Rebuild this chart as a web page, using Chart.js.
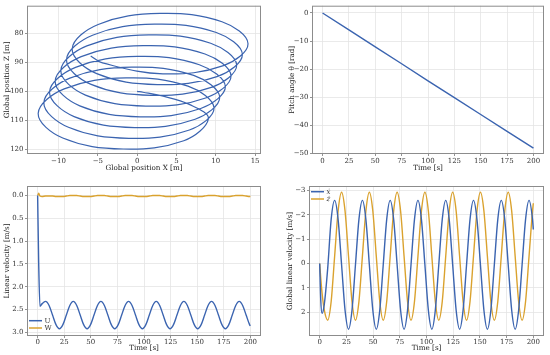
<!DOCTYPE html>
<html>
<head>
<meta charset="utf-8">
<script src="https://cdn.jsdelivr.net/npm/chart.js@4.4.1/dist/chart.umd.min.js"></script>
<style>
html, body { margin: 0; padding: 0; background: #fff; }
#wrap { position: relative; width: 550px; height: 355px; }
canvas { position: absolute; }
</style>
</head>
<body>
<div id="wrap">
  <canvas id="pos" width="275" height="177" style="left:0;top:0"></canvas>
  <canvas id="pitch" width="275" height="177" style="left:275px;top:0"></canvas>
  <canvas id="vel" width="275" height="178" style="left:0;top:177px"></canvas>
  <canvas id="gvel" width="275" height="178" style="left:275px;top:177px"></canvas>
</div>
<script>
// trajectory in the x-z plane
const trajX = [0, 0.75, 2.9, 6.7,
  9.06, 5.93, -1.76, -9.45, -12.58, -9.27, -1.40, 6.47,
  9.78, 6.65, -1.04, -8.73, -11.86, -8.55, -0.68, 7.19,
  10.50, 7.37, -0.32, -8.01, -11.14, -7.83, 0.04, 7.91,
  11.22, 8.09, 0.40, -7.29, -10.42, -7.11, 0.76, 8.63,
  11.94, 8.81, 1.12, -6.57, -9.70, -6.39, 1.48, 9.35,
  12.66, 9.53, 1.84, -5.85, -8.98, -5.67, 2.20, 10.07,
  13.38, 10.25, 2.56, -5.13, -8.26, -4.95, 2.92, 10.79,
  14.10, 10.97, 3.28, -4.41, -5.9];
const trajZ = [100, 100.3, 101.4, 104.6,
  109.5, 117.10, 119.97, 116.17, 107.64, 99.12, 95.31, 98.19,
  105.78, 113.38, 116.25, 112.45, 103.92, 95.40, 91.59, 94.47,
  102.06, 109.66, 112.53, 108.73, 100.20, 91.68, 87.87, 90.75,
  98.34, 105.94, 108.81, 105.01, 96.48, 87.96, 84.15, 87.03,
  94.62, 102.22, 105.09, 101.29, 92.76, 84.24, 80.43, 83.31,
  90.90, 98.50, 101.37, 97.57, 89.04, 80.52, 76.71, 79.59,
  87.18, 94.78, 97.65, 93.85, 85.32, 76.80, 72.99, 75.87,
  83.46, 91.06, 93.93, 90.13, 87.7];

// pitch angle
const pitchT = [0, 25, 50, 75, 100, 125, 150, 175, 200];
const pitchV = [0, -6.0, -12.1, -18.1, -24.2, -30.2, -36.2, -42.2, -48.2];

// time stamps shared by the velocity series
const timeS = [0, 1, 2.2, 4.25, 7.5, 10.75,
  14, 17.25, 20.5, 23.75, 27, 30.25, 33.5, 36.75,
  40, 43.25, 46.5, 49.75, 53, 56.25, 59.5, 62.75,
  66, 69.25, 72.5, 75.75, 79, 82.25, 85.5, 88.75,
  92, 95.25, 98.5, 101.75, 105, 108.25, 111.5, 114.75,
  118, 121.25, 124.5, 127.75, 131, 134.25, 137.5, 140.75,
  144, 147.25, 150.5, 153.75, 157, 160.25, 163.5, 166.75,
  170, 173.25, 176.5, 179.75, 183, 186.25, 189.5, 192.75,
  196, 199.25, 200];

const velU = [0, 1.5, 2.43, 2.37, 2.32, 2.41,
  2.62, 2.83, 2.92, 2.83, 2.62, 2.41, 2.32, 2.41,
  2.62, 2.83, 2.92, 2.83, 2.62, 2.41, 2.32, 2.41,
  2.62, 2.83, 2.92, 2.83, 2.62, 2.41, 2.32, 2.41,
  2.62, 2.83, 2.92, 2.83, 2.62, 2.41, 2.32, 2.41,
  2.62, 2.83, 2.92, 2.83, 2.62, 2.41, 2.32, 2.41,
  2.62, 2.83, 2.92, 2.83, 2.62, 2.41, 2.32, 2.41,
  2.62, 2.83, 2.92, 2.83, 2.62, 2.41, 2.32, 2.41,
  2.62, 2.83, 2.86];
const velW = [0, -0.05, 0.01, 0.02, 0.01, 0.01,
  0.01, 0.02, 0.02, 0.02, 0.01, 0, 0, 0,
  0.01, 0.02, 0.02, 0.02, 0.01, 0, 0, 0,
  0.01, 0.02, 0.02, 0.02, 0.01, 0, 0, 0,
  0.01, 0.02, 0.02, 0.02, 0.01, 0, 0, 0,
  0.01, 0.02, 0.02, 0.02, 0.01, 0, 0, 0,
  0.01, 0.02, 0.02, 0.02, 0.01, 0, 0, 0,
  0.01, 0.02, 0.02, 0.02, 0.01, 0, 0, 0,
  0.01, 0.02, 0.02];
const velXdot = [0, 1.5, 2.05, 1.7, 0.2, -1.82,
  -2.6, -1.82, 0.05, 1.92, 2.7, 1.92, 0.05, -1.82,
  -2.6, -1.82, 0.05, 1.92, 2.7, 1.92, 0.05, -1.82,
  -2.6, -1.82, 0.05, 1.92, 2.7, 1.92, 0.05, -1.82,
  -2.6, -1.82, 0.05, 1.92, 2.7, 1.92, 0.05, -1.82,
  -2.6, -1.82, 0.05, 1.92, 2.7, 1.92, 0.05, -1.82,
  -2.6, -1.82, 0.05, 1.92, 2.7, 1.92, 0.05, -1.82,
  -2.6, -1.82, 0.05, 1.92, 2.7, 1.92, 0.05, -1.82,
  -2.6, -1.82, -1.4];
const velZdot = [0, 0.6, 1.2, 1.9, 2.33, 1.56,
  -0.30, -2.16, -2.93, -2.16, -0.30, 1.56, 2.33, 1.56,
  -0.30, -2.16, -2.93, -2.16, -0.30, 1.56, 2.33, 1.56,
  -0.30, -2.16, -2.93, -2.16, -0.30, 1.56, 2.33, 1.56,
  -0.30, -2.16, -2.93, -2.16, -0.30, 1.56, 2.33, 1.56,
  -0.30, -2.16, -2.93, -2.16, -0.30, 1.56, 2.33, 1.56,
  -0.30, -2.16, -2.93, -2.16, -0.30, 1.56, 2.33, 1.56,
  -0.30, -2.16, -2.93, -2.16, -0.30, 1.56, 2.33, 1.56,
  -0.30, -2.16, -2.48];

const BLUE = '#3b64b0';
const ORANGE = '#daa22e';

Chart.defaults.font.family = "'DejaVu Serif', 'Liberation Serif', serif";
Chart.defaults.font.size = 7;
Chart.defaults.color = '#333';
Chart.defaults.animation = false;

const pts = (xs, ys) => xs.map((x, i) => ({x: x, y: ys[i]}));
const minus = v => String(v).replace('-', '\u2212');

// box around the plot area
const frame = {
    id: 'frame',
    afterDatasetsDraw(chart) {
        const {ctx, chartArea: a} = chart;
        ctx.save();
        ctx.strokeStyle = '#8c8c8c';
        ctx.lineWidth = 1;
        ctx.strokeRect(a.left + 0.5, a.top + 0.5, a.right - a.left - 1, a.bottom - a.top - 1);
        ctx.restore();
    }
};

// small legend inside a corner of the plot area
const cornerLegend = {
    id: 'cornerLegend',
    afterDraw(chart, args, o) {
        if (!o.where) return;
        const {ctx, chartArea: a} = chart;
        const sets = chart.data.datasets;
        ctx.save();
        sets.forEach((d, k) => {
            const y = o.where === 'bottom'
                ? a.bottom - 8 - 7.3 * (sets.length - 1 - k)
                : a.top + 5.7 + 7.3 * k;
            ctx.strokeStyle = d.borderColor;
            ctx.lineWidth = 1.5;
            ctx.beginPath();
            ctx.moveTo(a.left + 2, y);
            ctx.lineTo(a.left + 15, y);
            ctx.stroke();
            ctx.fillStyle = '#333';
            ctx.font = (o.italic ? 'italic ' : '') + "7px 'DejaVu Serif', serif";
            ctx.textBaseline = 'middle';
            ctx.fillText(d.label, a.left + 17.5, y);
        });
        ctx.restore();
    }
};

function axis(o) {
    return {
        type: 'linear',
        min: o.min, max: o.max, reverse: !!o.reverse,
        grid: {color: '#e4e4e4', lineWidth: 0.8, tickColor: '#777', tickLength: 2},
        border: {display: false},
        ticks: {stepSize: o.step, includeBounds: false, padding: o.pad, maxRotation: 0,
                autoSkip: false, callback: o.fmt || minus},
        title: {display: true, text: o.title, padding: o.tpad, color: '#222', font: {size: 7.2}},
        afterFit: s => { if (o.w) s.width = o.w; if (o.h) s.height = o.h; }
    };
}

function line(label, data, color, extra) {
    return Object.assign({label: label, data: data, borderColor: color, borderWidth: 1.4,
        pointRadius: 0, fill: false}, extra);
}

function make(id, datasets, xs, ys, pad, legend) {
    return new Chart(document.getElementById(id), {
        type: 'line',
        data: {datasets: datasets},
        options: {
            responsive: false,
            layout: {padding: pad},
            plugins: {legend: {display: false}, tooltip: {enabled: false}, cornerLegend: legend || {}},
            scales: {x: xs, y: ys}
        },
        plugins: [frame, cornerLegend]
    });
}

// top left: position
make('pos',
    [line('traj', pts(trajX, trajZ), BLUE, {tension: 0.38, borderWidth: 1.2})],
    axis({min: -14, max: 15.75, step: 5, pad: 0.5, h: 23, title: 'Global position X [m]', tpad: {top: 0, bottom: 4.9}}),
    axis({min: 70.3, max: 121.7, step: 10, reverse: true, pad: 1.5, w: 27, title: 'Global position Z [m]', tpad: {top: 3.2, bottom: 0}}),
    {left: 0, top: 5, right: 14, bottom: 0});

// top right: pitch
make('pitch',
    [line('pitch', pts(pitchT, pitchV), BLUE)],
    axis({min: -10, max: 210, step: 25, pad: 0.5, h: 23, title: 'Time [s]', tpad: {top: 0, bottom: 4.9}}),
    axis({min: -50.3, max: 2.6, step: 10, pad: 1.5, w: 37, title: 'Pitch angle \u03b8 [rad]', tpad: {top: 12.6, bottom: 0}}),
    {left: 0, top: 5, right: 6, bottom: 0});

// bottom left: body velocities
make('vel',
    [line('U', pts(timeS, velU), BLUE, {cubicInterpolationMode: 'monotone'}),
     line('W', pts(timeS, velW), ORANGE, {cubicInterpolationMode: 'monotone'})],
    axis({min: -10, max: 210, step: 25, pad: 0, h: 19, title: 'Time [s]', tpad: {top: 0, bottom: 2.9}}),
    axis({min: -0.21, max: 3.08, step: 0.5, reverse: true, pad: 1.5, w: 27, fmt: v => v.toFixed(1),
          title: 'Linear velocity [m/s]', tpad: {top: 3.2, bottom: 0}}),
    {left: 0, top: 9, right: 14, bottom: 0},
    {where: 'bottom'});

// bottom right: global velocities
make('gvel',
    [line('\u1e8b', pts(timeS, velXdot), BLUE, {cubicInterpolationMode: 'monotone'}),
     line('\u017c', pts(timeS, velZdot), ORANGE, {cubicInterpolationMode: 'monotone'})],
    axis({min: -10, max: 210, step: 25, pad: 0, h: 19, title: 'Time [s]', tpad: {top: 0, bottom: 2.9}}),
    axis({min: -3.19, max: 2.98, step: 1, reverse: true, pad: 1.5, w: 34,
          title: 'Global linear velocity [m/s]', tpad: {top: 10.9, bottom: 0}}),
    {left: 0, top: 9, right: 6, bottom: 0},
    {where: 'top', italic: true});
</script>
</body>
</html>
